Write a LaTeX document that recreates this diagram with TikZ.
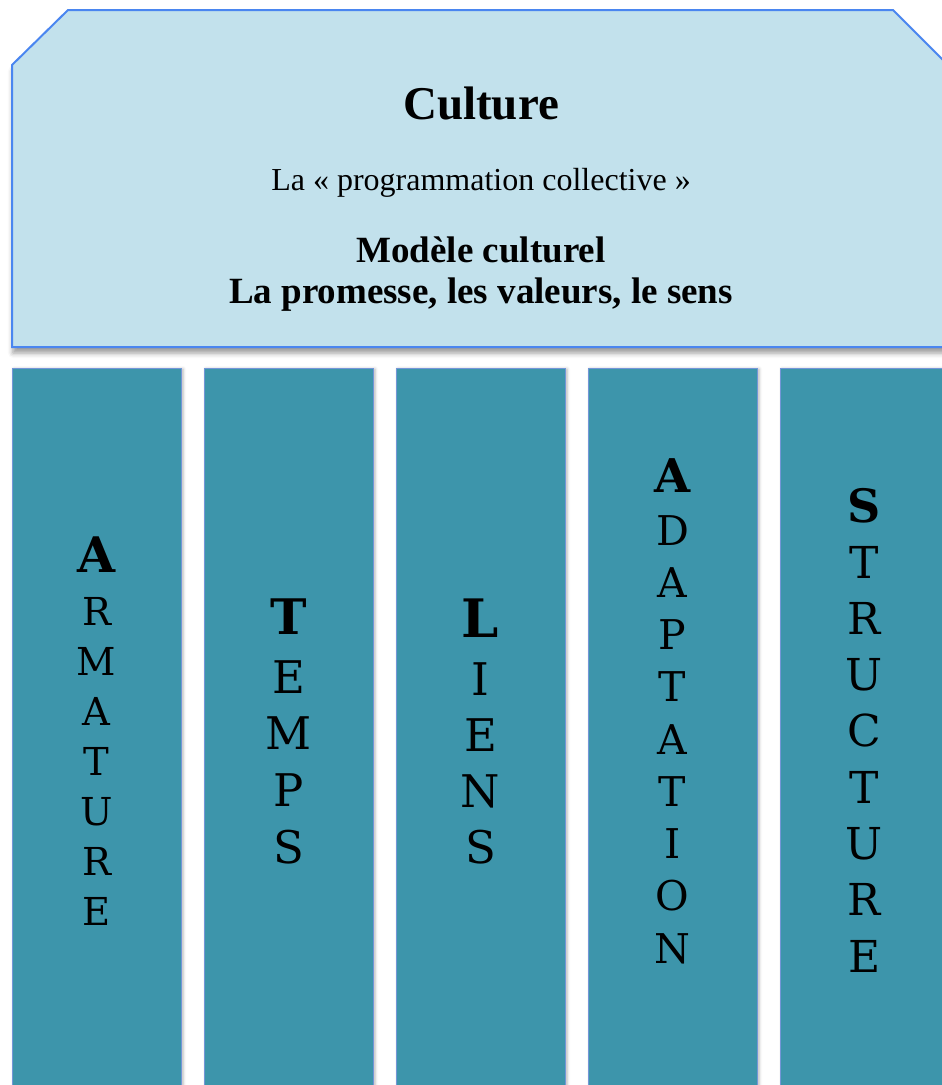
\documentclass[tikz,border=0pt]{standalone}
\usepackage{fontspec}
\setmainfont{Liberation Serif}
\newfontfamily\colfont{DejaVu Serif}
\usetikzlibrary{shadows.blur}
\definecolor{topfill}{RGB}{194,225,236}
\definecolor{topline}{RGB}{74,134,240}
\definecolor{colfill}{RGB}{61,149,171}
\definecolor{colline}{RGB}{115,150,215}
\tikzset{
  pillarbox/.style={fill=colfill, draw=colline, line width=1pt,
    blur shadow={shadow xshift=2pt, shadow yshift=-1pt, shadow blur radius=3pt, shadow opacity=30}},
  letter/.style={anchor=base, inner sep=0pt, text=black},
  toptext/.style={anchor=base, inner sep=0pt, text=black}
}
\newcommand\pillarletters[9]{%
  \node[letter, font=\colfont\bfseries\fontsize{#4}{#4}\selectfont] (#1-b) at (#2,#3) {#5};
  \foreach \L [count=\i from 0] in {#9} {
    \node[letter, font=\colfont\fontsize{#8}{#8}\selectfont] (#1-\i) at (#2,{#6+\i*#7}) {\L};
  }%
}
\begin{document}
\begin{tikzpicture}[x=1pt,y=-1pt]
\useasboundingbox (0,0) rectangle (942,1085);
\clip (0,0) rectangle (942,1085);
% top shape
\path[fill=topfill, draw=topline, line width=2pt,
  blur shadow={shadow xshift=1pt, shadow yshift=-6pt, shadow blur radius=5pt, shadow opacity=40}]
  (12,347) -- (12,65) -- (68,10) -- (893,10) -- (949,66) -- (949,347) -- cycle;
\node[toptext, font=\bfseries\fontsize{47}{47}\selectfont] (title) at (481,119) {Culture};
\node[toptext, font=\fontsize{32}{32}\selectfont] (sub) at (481,190) {La « programmation collective »};
\node[toptext, font=\bfseries\fontsize{37}{37}\selectfont] (model) at (481,262) {Modèle culturel};
\node[toptext, font=\bfseries\fontsize{37}{37}\selectfont] (promise) at (481,303) {La promesse, les valeurs, le sens};
% pillars
\path[pillarbox] (12,368) rectangle (181,1100);
\path[pillarbox] (204,368) rectangle (373,1100);
\path[pillarbox] (396,368) rectangle (565,1100);
\path[pillarbox] (588,368) rectangle (757,1100);
\path[pillarbox] (780,368) rectangle (949,1100);
\pillarletters{p1}{96.5}{572}{49}{A}{625}{50}{38.5}{R,M,A,T,U,R,E}
\pillarletters{p2}{288.5}{634}{49}{T}{693}{56.7}{45}{E,M,P,S}
\pillarletters{p3}{480.5}{637}{53}{L}{695}{56}{45}{I,E,N,S}
\pillarletters{p4}{672.5}{492}{46.5}{A}{545}{52.25}{41}{D,A,P,T,A,T,I,O,N}
\pillarletters{p5}{864.5}{522}{46}{S}{578}{56.3}{44}{T,R,U,C,T,U,R,E}
\end{tikzpicture}
\end{document}
